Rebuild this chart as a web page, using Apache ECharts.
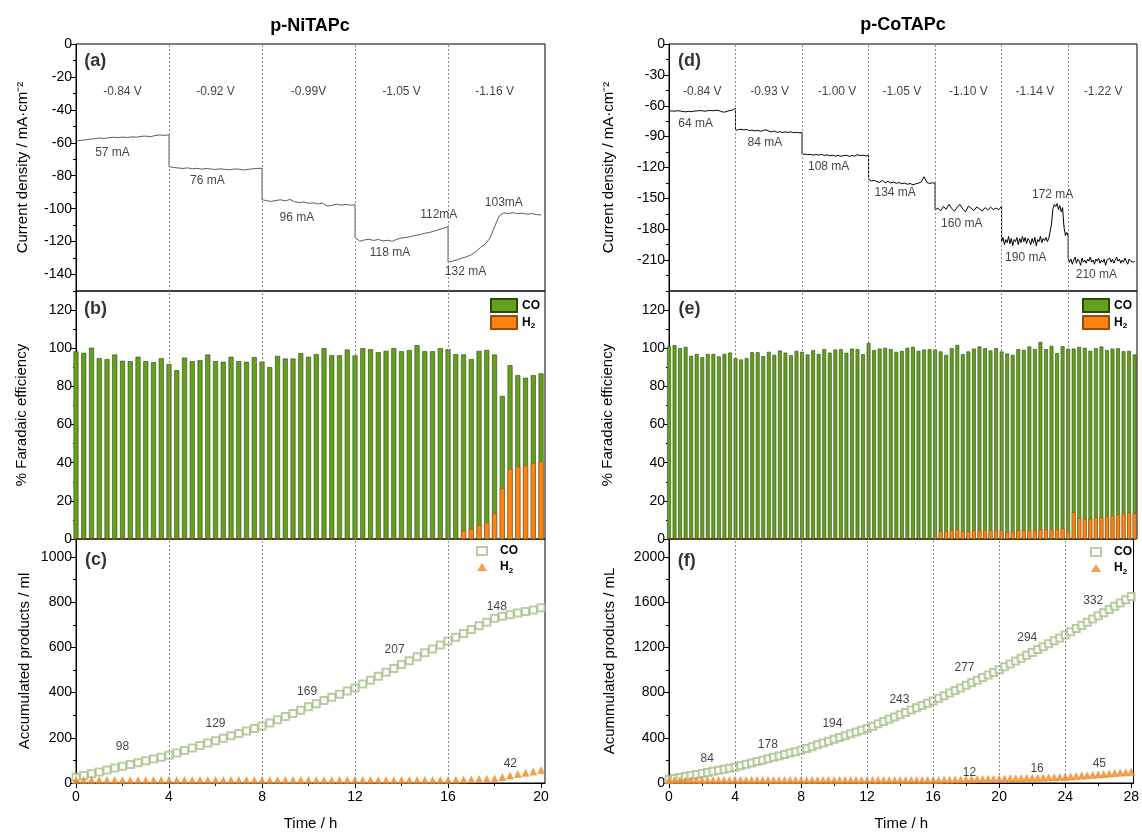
<!DOCTYPE html>
<html>
<head>
<meta charset="utf-8">
<title>p-NiTAPc / p-CoTAPc electrolysis</title>
<script src="https://cdn.jsdelivr.net/npm/echarts@6/dist/echarts.min.js"></script>
<style>
  html, body { margin: 0; padding: 0; background: #fff; }
  #chart { width: 1142px; height: 832px; }
</style>
</head>
<body>
<div id="chart"></div>
<script>
// ---------- data ----------

// current density, one array per potential step, each step lasts 4 h
const stepHours = 4
const curNi = [
  [-59.0, -58.6, -58.2, -57.8, -57.5, -57.1, -57.4, -56.9, -56.6, -56.9, -56.5, -56.8, -56.4, -56.6, -56.1, -55.9, -56.3, -55.6, -55.2, -55.5, -55.2],
  [-74.5, -75.0, -75.3, -75.6, -75.2, -75.8, -75.5, -76.0, -75.6, -75.9, -76.2, -75.8, -76.1, -76.4, -75.9, -76.0, -76.5, -76.1, -75.8, -75.6, -75.4],
  [-94.5, -95.2, -95.6, -95.0, -94.6, -95.3, -94.4, -95.8, -96.3, -95.9, -96.8, -96.4, -97.2, -96.6, -98.4, -98.0, -97.3, -97.8, -97.4, -97.9, -97.6],
  [-117.5, -119.8, -119.0, -118.6, -119.3, -118.7, -119.6, -119.2, -119.8, -118.6, -117.8, -117.5, -116.9, -116.2, -115.8, -114.9, -114.5, -113.6, -112.8, -111.9, -111.0],
  [-132.5, -131.8, -131.0, -130.0, -129.2, -128.0, -126.0, -123.5, -121.5, -118.0, -111.0, -104.5, -102.5, -103.0, -102.4, -103.1, -102.7, -103.4, -103.0, -103.6, -103.8],
]
const curCo = [
  [-65.5, -65.0, -65.3, -64.8, -65.1, -65.6, -65.9, -65.4, -65.7, -65.2, -65.0, -64.7, -64.9, -65.3, -64.8, -64.6, -64.9, -64.4, -64.7, -65.8, -66.2, -65.4, -64.6, -64.2, -62.5],
  [-84.0, -83.2, -82.8, -83.5, -83.0, -84.2, -83.6, -84.5, -83.9, -84.8, -84.1, -83.4, -84.6, -85.3, -84.7, -85.8, -85.2, -86.0, -85.4, -85.9, -85.3, -86.2, -85.8, -86.3, -86.0],
  [-107.5, -106.8, -107.6, -107.2, -108.0, -107.4, -107.9, -107.2, -108.3, -107.7, -108.6, -108.1, -108.9, -108.3, -109.1, -108.5, -108.0, -109.2, -108.4, -108.9, -107.6, -108.5, -107.9, -108.8, -108.4],
  [-131.5, -133.0, -132.4, -133.8, -134.4, -132.6, -134.8, -133.5, -135.0, -134.2, -135.4, -134.6, -135.8, -135.1, -136.3, -135.6, -136.8, -135.9, -135.2, -134.0, -129.0, -134.5, -135.6, -134.8, -135.4],
  [-161.0, -159.5, -162.2, -157.8, -160.6, -155.8, -159.8, -162.5, -158.2, -156.0, -160.4, -163.0, -157.5, -159.6, -161.8, -158.4, -160.2, -162.4, -159.0, -161.2, -158.6, -160.8, -159.4, -161.0, -157.6],
  [-192, -188, -195, -190, -193, -187, -194, -189, -196, -190,
   -192, -188, -195, -189, -193, -187, -192, -188, -194, -189,
   -191, -195, -189, -193, -188, -196, -190, -192, -187, -193,
   -189, -191, -188, -192, -189, -190, -175, -160, -156, -158,
   -155, -161, -157, -163, -159, -178, -186, -183, -187],
  [-208, -212, -209, -214, -210, -207, -213, -209, -211, -215,
   -208, -212, -210, -213, -209, -211, -207, -212, -210, -214,
   -209, -211, -208, -213, -210, -212, -209, -215, -210, -211,
   -208, -212, -209, -213, -210, -207, -211, -209, -213, -210,
   -212, -208, -211, -214, -209, -211, -210, -212, -211],
]
const stepEdgesNi = [4, 8, 12, 16]
const stepEdgesCo = [4, 8, 12, 16, 20, 24]

// one sample every 20 min from t = 0
const sampleHours = 1 / 3

// % faradaic efficiency
const feCoNi = [98.3, 97.6, 100.3, 94.8, 94.3, 96.7, 93.4, 93.2, 95.5, 93.2, 92.7, 94.8, 91.7, 88.5, 95.1, 93.2, 93.7,
  96.7, 93.2, 92.9, 95.5, 93.2, 92.9, 95.3, 93.0, 90.1, 96.0, 94.6, 94.6, 97.4, 95.5, 96.9, 100.0, 96.3, 96.3, 99.3,
  96.2, 100.0, 99.5, 97.9, 98.6, 100.0, 98.4, 99.0, 101.6, 98.4, 98.4, 100.0, 99.5, 96.9,
  92.4, 89.1, 91.3, 90.4, 83.3, 48.6, 54.4, 48.0, 46.1, 46.2, 46.3]
const feH2Ni = [0, 0, 0, 0, 0, 0, 0, 0, 0, 0, 0, 0, 0, 0, 0, 0, 0, 0, 0, 0, 0, 0, 0, 0, 0,
  0, 0, 0, 0, 0, 0, 0, 0, 0, 0, 0, 0, 0, 0, 0, 0, 0, 0, 0, 0, 0, 0, 0, 0, 0,
  4.3, 5.2, 7.3, 8.7, 13.4, 26.4, 36.7, 37.9, 38.4, 39.7, 40.5]
const feCoCo = [100.9, 101.6, 100.0, 100.7, 96.0, 97.0, 95.3, 97.0, 97.0, 95.7, 97.0, 97.7, 94.8, 94.1, 94.8, 97.9,
  97.9, 95.8, 98.1, 96.5, 98.8, 97.7, 96.3, 98.6, 98.1, 96.7, 99.0, 97.0, 99.5, 97.7, 99.3, 99.5, 97.6, 99.8, 99.5,
  96.9, 102.8, 99.0, 99.8, 100.2, 99.5, 98.1, 98.6, 100.2, 100.7, 98.6, 99.3, 99.5, 99.3,
  94.3, 92.5, 95.5, 96.7, 92.9, 94.3, 95.3, 96.4, 95.5, 94.3, 95.5, 93.8, 93.7, 92.5, 95.0, 94.6, 96.4, 95.0,
  98.3, 94.5, 96.2, 92.4, 95.5, 95.7,
  85.8, 89.7, 89.7, 88.1, 89.0, 89.6, 87.2, 87.5, 87.3, 85.1, 84.9, 83.4]
const feH2Co = [0, 0, 0, 0, 0, 0, 0, 0, 0, 0, 0, 0, 0, 0, 0, 0, 0, 0, 0, 0, 0, 0, 0, 0, 0,
  0, 0, 0, 0, 0, 0, 0, 0, 0, 0, 0, 0, 0, 0, 0, 0, 0, 0, 0, 0, 0, 0, 0, 0,
  4.0, 4.0, 4.5, 5.0, 4.0, 4.0, 4.5, 4.5, 4.5, 4.5, 4.5, 4.5, 3.5, 4.0, 4.5, 4.5, 4.5, 4.5,
  5.0, 5.0, 5.0, 5.0, 5.5, 4.0,
  14.0, 11.0, 10.5, 10.5, 11.0, 11.3, 11.8, 12.3, 12.7, 13.3, 13.7, 13.3]

// accumulated products / ml
const accCoNi = [25, 33, 41, 49, 57, 66, 74, 82, 90, 98, 106, 114, 123,
  133, 144, 155, 166, 177, 187, 198, 209, 219, 230, 241, 252,
  266, 280, 294, 308, 322, 337, 351, 365, 379, 393, 407, 421,
  438, 455, 472, 490, 507, 524, 541, 559, 576, 593, 611, 628,
  645, 662, 679, 696, 712, 729, 738, 745, 752, 759, 766, 776]
const accH2Ni = [0, 0, 0, 0, 0, 0, 0, 0, 0, 0, 0, 0, 0, 0, 0, 0, 0, 0, 0, 0, 0, 0, 0, 0, 0,
  0, 0, 0, 0, 0, 0, 0, 0, 0, 0, 0, 0, 0, 0, 0, 0, 0, 0, 0, 0, 0, 0, 0, 0,
  1, 2, 3, 4, 5, 7, 13, 20, 27, 32, 38, 44]
const accCoCo = [30, 39, 48, 57, 67, 76, 85, 94, 103, 112, 121, 131, 140,
  152, 165, 177, 190, 202, 215, 227, 240, 252, 265, 277, 290,
  306, 322, 338, 354, 370, 387, 403, 419, 435, 451, 467, 483,
  503, 524, 544, 564, 585, 605, 625, 646, 666, 686, 707, 727,
  750, 773, 796, 819, 842, 865, 888, 910, 933, 956, 979, 1002,
  1028, 1053, 1079, 1105, 1130, 1156, 1182, 1207, 1233, 1259, 1284, 1310,
  1338, 1367, 1395, 1423, 1452, 1480, 1508, 1537, 1565, 1593, 1622, 1650]
const accH2Co = [0, 0, 0, 0, 0, 0, 0, 0, 0, 0, 0, 0, 0, 0, 0, 0, 0, 0, 0, 0, 0, 0, 0, 0, 0,
  0, 0, 0, 0, 0, 0, 0, 0, 0, 0, 0, 0, 0, 0, 0, 0, 0, 0, 0, 0, 0, 0, 0, 0,
  1, 2, 3, 4, 5, 6, 7, 8, 9, 10, 11, 12,
  13, 15, 16, 17, 19, 20, 21, 23, 24, 25, 27, 28,
  32, 36, 39, 43, 47, 51, 54, 58, 62, 66, 69, 73]

// text written on the panels: [time, value, text]
const notesNi = [
  [2, -29, '-0.84 V'], [6, -29, '-0.92 V'], [10, -29, '-0.99V'], [14, -29, '-1.05 V'], [18, -29, '-1.16 V'],
  [1.57, -66, '57 mA'], [5.65, -83, '76 mA'], [9.5, -105.3, '96 mA'], [13.5, -127, '118 mA'],
  [15.6, -103.8, '112mA'], [16.75, -138.3, '132 mA'], [18.4, -96.4, '103mA'],
]
const notesCo = [
  [2, -46.3, '-0.84 V'], [6.05, -46.3, '-0.93 V'], [10.1, -46.3, '-1.00 V'], [14, -46.3, '-1.05 V'],
  [18, -46.3, '-1.10 V'], [22, -46.3, '-1.14 V'], [26.1, -46.3, '-1.22 V'],
  [1.6, -77, '64 mA'], [5.77, -95.9, '84 mA'], [9.6, -119.2, '108 mA'], [13.6, -144.5, '134 mA'],
  [17.6, -175, '160 mA'], [23.07, -146.7, '172 mA'], [21.45, -207.3, '190 mA'], [25.7, -224.5, '210 mA'],
]
const notesAccNi = [[2.0, 160, '98'], [6.0, 262, '129'], [9.94, 402, '169'], [13.7, 590, '207'], [18.1, 781, '148'], [18.68, 84, '42']]
const notesAccCo = [[2.31, 212, '84'], [5.99, 335, '178'], [9.9, 525, '194'], [13.96, 738, '243'], [17.9, 1021, '277'],
  [21.7, 1283, '294'], [25.7, 1612, '332'], [18.2, 90, '12'], [22.3, 125, '16'], [26.07, 175, '45']]
const panelTags = [[0.83, -10.3, '(a)'], [0.84, 120.6, '(b)'], [0.86, 988, '(c)'], [1.23, -16.5, '(d)'], [1.23, 120.6, '(e)'], [1.07, 1961, '(f)']]

// ticks
const timeTicksNi = [0, 4, 8, 12, 16, 20]
const timeMinorNi = [2, 6, 10, 14, 18]
const timeTicksCo = [0, 4, 8, 12, 16, 20, 24, 28]
const timeMinorCo = [2, 6, 10, 14, 18, 22, 26]
const curTicksNi = [-140, -120, -100, -80, -60, -40, -20, 0]
const curMinorNi = [-150, -130, -110, -90, -70, -50, -30, -10]
const curTicksCo = [-210, -180, -150, -120, -90, -60, -30, 0]
const curMinorCo = [-225, -195, -165, -135, -105, -75, -45, -15]
const feTicks = [0, 20, 40, 60, 80, 100, 120]
const feMinor = [10, 30, 50, 70, 90, 110, 130]
const accTicksNi = [0, 200, 400, 600, 800, 1000]
const accMinorNi = [100, 300, 500, 700, 900]
const accTicksCo = [0, 400, 800, 1200, 1600, 2000]
const accMinorCo = [200, 600, 1000, 1400, 1800]

// ---------- styling / layout ----------
const FONT = '"Liberation Sans", Arial, Helvetica, sans-serif'
const GREEN = '#64a01e', GREEN_EDGE = '#2c480c'
const ORANGE = '#ff8312', ORANGE_EDGE = '#9a4c06'
const SQUARE = '#a9bf8c', TRIANGLE = '#f08726'
const GUIDE = '#8f8f8f'

const cols = [{ left: 76, width: 469, tMax: 20.17 }, { left: 669, width: 468, tMax: 28.14 }]
const rows = [{ top: 44, height: 247 }, { top: 291, height: 248 }, { top: 539, height: 247 }]

// grid order: 0 a, 1 b, 2 c, 3 d, 4 e, 5 f
const grid = []
cols.forEach(c => rows.forEach(r => grid.push({
  left: c.left, top: r.top, width: c.width, height: r.height,
  show: true, borderColor: '#000', borderWidth: 1, backgroundColor: 'transparent',
})))

const ySpec = [
  { min: -150, max: 0, ticks: curTicksNi, minor: curMinorNi, name: 'Current density / mA·cm⁻²', gap: 46 },
  { min: 0, max: 130, ticks: feTicks, minor: feMinor, name: '% Faradaic efficiency', gap: 47 },
  { min: 0, max: 1080, ticks: accTicksNi, minor: accMinorNi, name: 'Accumulated products / ml', gap: 44 },
  { min: -240, max: 0, ticks: curTicksCo, minor: curMinorCo, name: 'Current density / mA·cm⁻²', gap: 53 },
  { min: 0, max: 130, ticks: feTicks, minor: feMinor, name: '% Faradaic efficiency', gap: 54 },
  { min: 0, max: 2160, ticks: accTicksCo, minor: accMinorCo, name: 'Acummulated products / mL', gap: 52 },
]

const xAxis = []
const yAxis = []
for (let g = 0; g < 6; g++) {
  const col = g < 3 ? 0 : 1
  const bottom = g % 3 === 2
  const ticks = col ? timeTicksCo : timeTicksNi
  xAxis.push({
    type: 'value', gridIndex: g, position: 'bottom', min: 0, max: cols[col].tMax, show: bottom,
    axisLine: { show: true, lineStyle: { color: '#000', width: 1 } },
    axisTick: { show: true, customValues: ticks, length: 5, lineStyle: { color: '#000' } },
    axisLabel: { customValues: ticks, color: '#000', fontSize: 14, fontFamily: FONT, margin: 7, formatter: v => String(v) },
    splitLine: { show: false },
    name: 'Time / h', nameLocation: 'middle', nameGap: 33,
    nameTextStyle: { color: '#000', fontSize: 15, fontFamily: FONT },
  })
  const s = ySpec[g]
  yAxis.push({
    type: 'value', gridIndex: g, position: 'left', min: s.min, max: s.max,
    axisLine: { show: true, lineStyle: { color: '#000', width: 1 } },
    axisTick: { show: true, customValues: s.ticks, length: 5, lineStyle: { color: '#000' } },
    axisLabel: { customValues: s.ticks, color: '#000', fontSize: 14, fontFamily: FONT, margin: 4, formatter: v => String(v) },
    splitLine: { show: false },
    name: s.name, nameLocation: 'middle', nameGap: s.gap,
    nameTextStyle: { color: '#000', fontSize: 15, fontFamily: FONT },
  })
}
// minor ticks: extra invisible axes laid over the main ones
for (let g = 0; g < 6; g++) {
  const s = ySpec[g]
  yAxis.push({
    type: 'value', gridIndex: g, position: 'left', min: s.min, max: s.max,
    axisLine: { show: false }, axisLabel: { show: false }, splitLine: { show: false },
    axisTick: { show: true, customValues: s.minor, length: 3, lineStyle: { color: '#000' } },
  })
}
const minorX = [{ g: 2, col: 0, vals: timeMinorNi }, { g: 5, col: 1, vals: timeMinorCo }]
minorX.forEach(m => xAxis.push({
  type: 'value', gridIndex: m.g, position: 'bottom', min: 0, max: cols[m.col].tMax,
  axisLine: { show: false }, axisLabel: { show: false }, splitLine: { show: false },
  axisTick: { show: true, customValues: m.vals, length: 3, lineStyle: { color: '#000' } },
}))

// ---------- helpers ----------
function stepLine(segs) {
  const pts = []
  segs.forEach((seg, k) => {
    const dt = stepHours / (seg.length - 1)
    seg.forEach((v, i) => pts.push([k * stepHours + i * dt, v]))
  })
  return pts
}
function timed(vals) {
  return vals.map((v, i) => [i * sampleHours, v])
}
function guides(edges) {
  return {
    silent: true, symbol: ['none', 'none'], animation: false,
    label: { show: false },
    lineStyle: { color: GUIDE, type: [2, 2], width: 1 },
    emphasis: { disabled: true },
    data: edges.map(t => ({ xAxis: t })),
  }
}
function notes(g, items, extra) {
  return {
    type: 'scatter', xAxisIndex: g, yAxisIndex: g, silent: true, z: 6,
    symbolSize: 1, itemStyle: { color: 'rgba(0,0,0,0)' },
    data: items.map(([t, v, s]) => ({ value: [t, v], name: s })),
    label: Object.assign({
      show: true, position: 'inside', formatter: '{b}',
      color: '#111', fontSize: 12, fontFamily: FONT,
    }, extra || {}),
  }
}
// H2 sits at the bottom of each bar, CO on top of it: the green bar is drawn to CO + H2
// and the orange one is laid over its lower part
function feBars(g, co, h2, names, width) {
  const total = co.map((v, i) => v + h2[i])
  return [
    {
      name: names[0], type: 'bar', xAxisIndex: g, yAxisIndex: g,
      barWidth: width, barGap: '-100%', clip: true, data: timed(total),
      itemStyle: { color: GREEN, borderColor: GREEN_EDGE, borderWidth: 0.6 },
      markLine: guides(g < 3 ? stepEdgesNi : stepEdgesCo),
    },
    {
      name: names[1], type: 'bar', xAxisIndex: g, yAxisIndex: g,
      barWidth: width, barGap: '-100%', clip: true, data: timed(h2),
      itemStyle: { color: ORANGE, borderColor: ORANGE_EDGE, borderWidth: 0.5 },
    },
  ]
}
function accPoints(g, co, h2, names) {
  return [
    {
      name: names[0], type: 'scatter', xAxisIndex: g, yAxisIndex: g, data: timed(co),
      symbol: 'emptyRect', symbolSize: 7, itemStyle: { color: SQUARE, borderWidth: 1 },
      markLine: guides(g < 3 ? stepEdgesNi : stepEdgesCo),
    },
    {
      name: names[1], type: 'scatter', xAxisIndex: g, yAxisIndex: g, data: timed(h2),
      symbol: 'triangle', symbolSize: 8, symbolOffset: [0, -3], itemStyle: { color: TRIANGLE },
    },
  ]
}
function legendAt(names, left, top, iw, ih, gap, icon, textPad) {
  return {
    data: names, left, top, orient: 'vertical', icon,
    itemWidth: iw, itemHeight: ih, itemGap: gap, selectedMode: false, padding: 0,
    formatter: n => n.startsWith('CO') ? 'CO' : 'H{s|2}',
    textStyle: {
      color: '#000', fontSize: 12, fontWeight: 'bold', fontFamily: FONT, padding: [0, 0, 0, textPad],
      rich: { s: { fontSize: 8, fontWeight: 'bold', fontFamily: FONT, padding: [7, 0, 0, 0] } },
    },
  }
}

const series = [
  // (a)
  {
    type: 'line', xAxisIndex: 0, yAxisIndex: 0, data: stepLine(curNi),
    showSymbol: false, symbol: 'none', lineStyle: { color: '#4a4a4a', width: 0.9 },
    markLine: guides(stepEdgesNi),
  },
  notes(0, notesNi),
  // (b)
  ...feBars(1, feCoNi, feH2Ni, ['CO_b', 'H2_b'], 5),
  // (c)
  ...accPoints(2, accCoNi, accH2Ni, ['CO_c', 'H2_c']),
  notes(2, notesAccNi),
  // (d)
  {
    type: 'line', xAxisIndex: 3, yAxisIndex: 3, data: stepLine(curCo),
    showSymbol: false, symbol: 'none', lineStyle: { color: '#000', width: 1 },
    markLine: guides(stepEdgesCo),
  },
  notes(3, notesCo),
  // (e)
  ...feBars(4, feCoCo, feH2Co, ['CO_e', 'H2_e'], 3.8),
  // (f)
  ...accPoints(5, accCoCo, accH2Co, ['CO_f', 'H2_f']),
  notes(5, notesAccCo),
]
panelTags.forEach((tag, g) => series.push(notes(g, [tag], { fontSize: 18, fontWeight: 'bold', color: '#000' })))

const option = {
  animation: false,
  backgroundColor: '#fff',
  textStyle: { fontFamily: FONT },
  grid, xAxis, yAxis, series,
  legend: [
    legendAt(['CO_b', 'H2_b'], 490, 298, 26, 13, 2, 'rect', 0),
    legendAt(['CO_e', 'H2_e'], 1082, 298, 26, 13, 2, 'rect', 0),
    legendAt(['CO_c', 'H2_c'], 476, 545, 10, 8, 4, undefined, 8),
    legendAt(['CO_f', 'H2_f'], 1090, 546, 10, 8, 4, undefined, 8),
  ],
  graphic: [
    { type: 'text', x: 310, y: 26, style: { text: 'p-NiTAPc', fontSize: 18, fontWeight: 'bold', fontFamily: FONT, fill: '#000', textAlign: 'center', textVerticalAlign: 'middle' } },
    { type: 'text', x: 903, y: 25, style: { text: 'p-CoTAPc', fontSize: 18, fontWeight: 'bold', fontFamily: FONT, fill: '#000', textAlign: 'center', textVerticalAlign: 'middle' } },
  ],
}

const chart = echarts.init(document.getElementById('chart'))
chart.setOption(option)
</script>
</body>
</html>
